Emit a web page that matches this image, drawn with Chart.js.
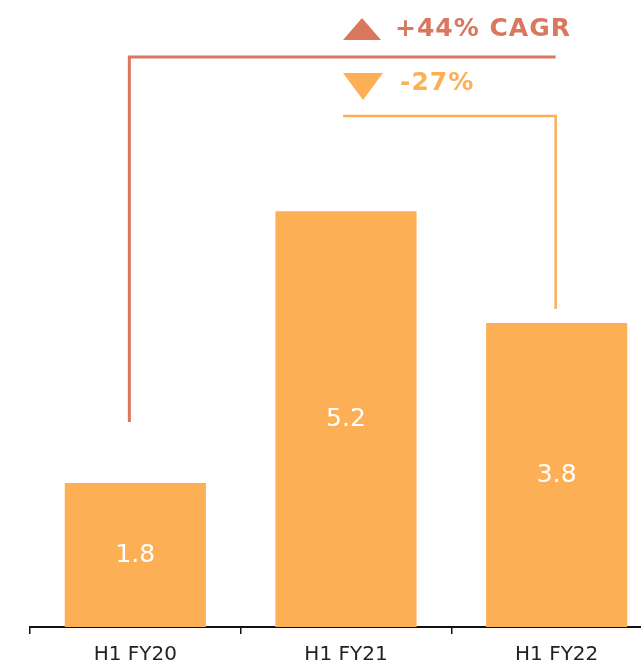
<!DOCTYPE html>
<html>
<head>
<meta charset="utf-8">
<script src="https://cdn.jsdelivr.net/npm/chart.js@4/dist/chart.umd.min.js"></script>
<style>
  html, body { margin: 0; padding: 0; background: #fff; }
  #wrap { width: 641px; height: 662px; overflow: hidden; position: relative; }
  #chart { position: absolute; left: 0; top: 0; }
</style>
</head>
<body>
<div id="wrap"><canvas id="chart" width="662" height="676"></canvas></div>
<script>
const periods = ["H1 FY20", "H1 FY21", "H1 FY22"];
const values = [1.8, 5.2, 3.8];
const growthLabels = ["+44% CAGR", "-27%"];

const barColor = "#FDAF55";
const coral = "#D9775F";

// value labels in the middle of every bar
const barLabels = {
  id: "barLabels",
  afterDatasetsDraw(chart) {
    const ctx = chart.ctx;
    const meta = chart.getDatasetMeta(0);
    ctx.save();
    ctx.fillStyle = "#fff";
    ctx.font = "25px 'DejaVu Sans'";
    ctx.textAlign = "center";
    ctx.textBaseline = "middle";
    meta.data.forEach((bar, i) => {
      ctx.fillText(values[i].toFixed(1), bar.x, (bar.y + bar.base) / 2);
    });
    ctx.restore();
  },
};

// bracket lines with the growth callouts
const growthCallouts = {
  id: "growthCallouts",
  afterDraw(chart) {
    const ctx = chart.ctx;
    const bars = chart.getDatasetMeta(0).data;
    const top = chart.chartArea.top;
    const endX = bars[2].x - 1;

    ctx.save();
    ctx.lineCap = "butt";
    ctx.lineJoin = "miter";

    // FY20 -> FY22
    ctx.strokeStyle = coral;
    ctx.lineWidth = 3;
    ctx.beginPath();
    ctx.moveTo(bars[0].x - 6, bars[0].y - 61);
    ctx.lineTo(bars[0].x - 6, top + 57);
    ctx.lineTo(endX, top + 57);
    ctx.stroke();

    // FY21 -> FY22
    ctx.strokeStyle = barColor;
    ctx.lineWidth = 2.5;
    ctx.beginPath();
    ctx.moveTo(343, top + 116);
    ctx.lineTo(endX, top + 116);
    ctx.lineTo(endX, bars[2].y - 14);
    ctx.stroke();

    // triangles
    ctx.fillStyle = coral;
    ctx.beginPath();
    ctx.moveTo(343, top + 40);
    ctx.lineTo(381, top + 40);
    ctx.lineTo(362, top + 18);
    ctx.closePath();
    ctx.fill();

    ctx.fillStyle = barColor;
    ctx.beginPath();
    ctx.moveTo(343, top + 73);
    ctx.lineTo(383, top + 73);
    ctx.lineTo(363, top + 100);
    ctx.closePath();
    ctx.fill();

    // texts
    ctx.font = "bold 25px 'DejaVu Sans'";
    ctx.letterSpacing = "1px";
    ctx.textBaseline = "middle";
    ctx.textAlign = "left";
    ctx.fillStyle = coral;
    ctx.fillText(growthLabels[0], 395, top + 29);
    ctx.fillStyle = barColor;
    ctx.fillText(growthLabels[1], 400, top + 83);
    ctx.restore();
  },
};

new Chart(document.getElementById("chart"), {
  type: "bar",
  data: {
    labels: periods,
    datasets: [
      {
        data: values,
        backgroundColor: barColor,
        borderWidth: 0,
        barPercentage: 0.67,
        categoryPercentage: 1,
      },
    ],
  },
  options: {
    responsive: false,
    animation: false,
    devicePixelRatio: 1,
    layout: { padding: { left: 30, top: 0, right: 0, bottom: 0 } },
    plugins: {
      legend: { display: false },
      tooltip: { enabled: false },
    },
    scales: {
      y: { display: false, min: 0, max: 7.84 },
      x: {
        offset: true,
        grid: {
          offset: true,
          drawOnChartArea: false,
          tickLength: 7,
          color: "#111",
          lineWidth: 1.5,
        },
        border: { display: true, color: "#111", width: 2 },
        ticks: {
          color: "#222",
          padding: 9,
          font: { family: "'DejaVu Sans'", size: 20 },
        },
      },
    },
  },
  plugins: [barLabels, growthCallouts],
});
</script>
</body>
</html>
